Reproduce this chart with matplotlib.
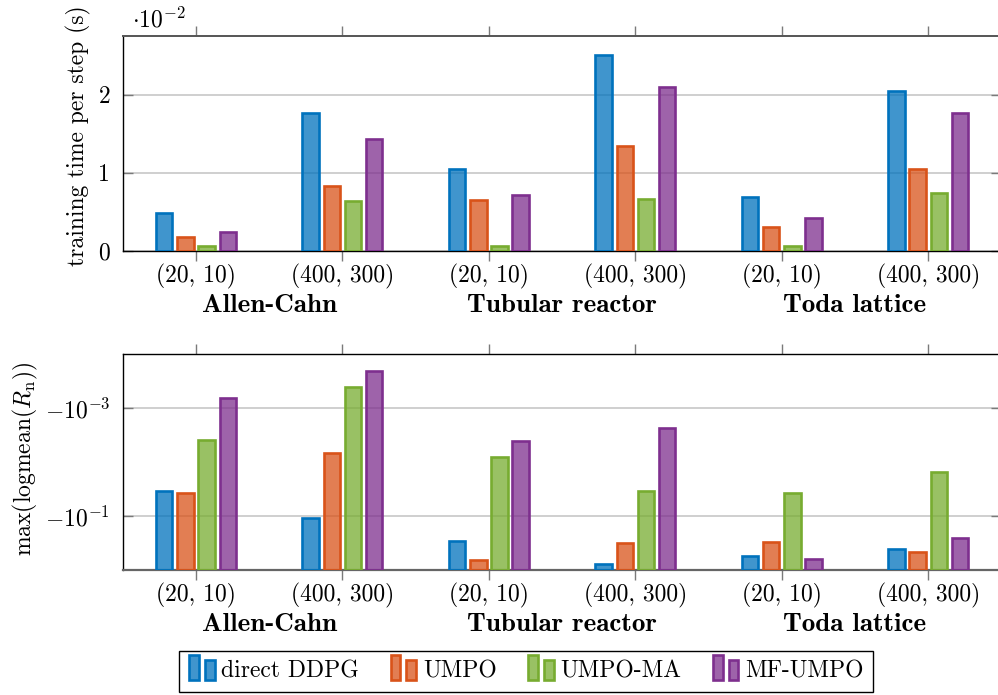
import numpy as np
import matplotlib
matplotlib.use("Agg")
import matplotlib.pyplot as plt
from matplotlib.colors import to_rgba
from matplotlib.patches import Rectangle, Patch
from matplotlib.legend_handler import HandlerBase
from matplotlib.ticker import FixedLocator, FuncFormatter, NullLocator

plt.rcParams["font.family"] = ["cmr10", "DejaVu Serif"]
plt.rcParams["mathtext.fontset"] = "cm"
plt.rcParams["axes.formatter.use_mathtext"] = True
plt.rcParams["axes.unicode_minus"] = True

# ---- data -------------------------------------------------------------
tick_labels = ["(20, 10)", "(400, 300)", "(20, 10)", "(400, 300)", "(20, 10)", "(400, 300)"]
groups = ["Allen-Cahn", "Tubular reactor", "Toda lattice"]
methods = ["direct DDPG", "UMPO", "UMPO-MA", "MF-UMPO"]
colors = ["#0072BD", "#D95319", "#77AC30", "#7E2F8E"]

# training time per step (s)
time_ddpg = [0.0048, 0.0176, 0.0105, 0.0251, 0.0069, 0.0204]
time_umpo = [0.0018, 0.0083, 0.0065, 0.0134, 0.0031, 0.0105]
time_umpo_ma = [0.0007, 0.0064, 0.0007, 0.0067, 0.0007, 0.0074]
time_mf_umpo = [0.0024, 0.0143, 0.0072, 0.0210, 0.0042, 0.0176]

# max(logmean(R_n))
res_ddpg = [-0.034, -0.107, -0.29, -0.78, -0.55, -0.41]
res_umpo = [-0.037, -0.0068, -0.66, -0.32, -0.30, -0.46]
res_umpo_ma = [-0.0039, -0.00041, -0.0081, -0.034, -0.037, -0.0154]
res_mf_umpo = [-0.00066, -0.00020, -0.0041, -0.0023, -0.62, -0.26]

times = [time_ddpg, time_umpo, time_umpo_ma, time_mf_umpo]
residuals = [res_ddpg, res_umpo, res_umpo_ma, res_mf_umpo]

# ---- layout -----------------------------------------------------------
fig = plt.figure(figsize=(9.98, 6.95), dpi=100)
left, width = 0.1230, 0.8805
ax_top = fig.add_axes([left, 0.6388, width, 0.3098])
ax_bot = fig.add_axes([left, 0.1799, width, 0.3103])

x = np.arange(len(tick_labels))
pitch = 0.1447
bar_w = 0.112
bar_lw = 1.9
offsets = (np.arange(len(methods)) - 1.5) * pitch
FS = 17
GRID = "#cfcfcf"
TICKC = "#7a7a7a"


def style_axes(ax):
    ax.set_xlim(-0.5, 5.5)
    ax.set_xticks(x)
    ax.set_xticklabels(tick_labels, fontsize=FS)
    ax.tick_params(axis="x", direction="out", top=True, bottom=True,
                   length=7, width=1, color=TICKC, pad=2)
    ax.tick_params(axis="y", direction="in", left=True, right=True,
                   length=7, width=1, color=TICKC, labelsize=FS, pad=9)
    ax.yaxis.set_minor_locator(NullLocator())
    ax.grid(axis="y", color=GRID, lw=1.4)
    ax.set_axisbelow(True)
    for spine in ax.spines.values():
        spine.set_linewidth(1.0)
    ax.spines["right"].set_visible(False)
    for i, g in enumerate(groups):
        ax.text(2 * i + 0.5, -0.255, g, transform=ax.get_xaxis_transform(),
                ha="center", va="center", fontsize=19.5, family="cmb10")


def draw_bars(ax, series, base):
    for k, (vals, c) in enumerate(zip(series, colors)):
        vals = np.asarray(vals)
        ax.bar(x + offsets[k], vals - base, bottom=base, width=bar_w,
               facecolor=to_rgba(c, 0.75), edgecolor=c, linewidth=bar_lw, zorder=3)


# ---- top panel: training time ----------------------------------------
style_axes(ax_top)
draw_bars(ax_top, times, 0.0)
ax_top.set_ylim(0, 0.02753)
ax_top.yaxis.set_major_locator(FixedLocator([0, 0.01, 0.02]))
ax_top.yaxis.set_major_formatter(FuncFormatter(lambda v, p: f"{v * 100:g}"))
ax_top.spines["top"].set_color("#555555")
ax_top.spines["top"].set_linewidth(1.4)
fig.text(0.132, 0.961, r"$\cdot 10^{-2}$", fontsize=FS, ha="left", va="baseline")
fig.text(0.079, 0.805, "training time per step (s)", rotation=90,
         ha="center", va="center", fontsize=FS)


# ---- bottom panel: residual measure ----------------------------------
def fwd(y):
    y = np.asarray(y, dtype=float)
    with np.errstate(divide="ignore", invalid="ignore"):
        return -np.log10(-y)


def inv(u):
    return -np.power(10.0, -np.asarray(u, dtype=float))


ax_bot.set_yscale("function", functions=(fwd, inv))
style_axes(ax_bot)
draw_bars(ax_bot, residuals, -1.0)
ax_bot.set_ylim(-1.0, -1e-4)
ax_bot.yaxis.set_major_locator(FixedLocator([-1e-3, -1e-1]))
ax_bot.yaxis.set_minor_locator(NullLocator())
ax_bot.yaxis.set_major_formatter(
    FuncFormatter(lambda v, p: r"$-10^{%d}$" % round(np.log10(-v))))
ax_bot.spines["bottom"].set_color("#666666")
ax_bot.spines["bottom"].set_linewidth(1.6)
fig.text(0.026, 0.3396, r"$\max(\mathrm{logmean}(R_{\mathrm{n}}))$", rotation=90,
         ha="center", va="center", fontsize=FS)


# ---- legend -----------------------------------------------------------
class PairedBarHandler(HandlerBase):
    def create_artists(self, legend, orig_handle, xdescent, ydescent,
                       width, height, fontsize, trans):
        fc = orig_handle.get_facecolor()
        ec = orig_handle.get_edgecolor()
        bw = width * 0.36
        y0 = -ydescent - 0.15 * height
        r1 = Rectangle((-xdescent + 0.03 * width, y0), bw, 1.55 * height,
                       facecolor=fc, edgecolor=ec, lw=bar_lw, transform=trans)
        r2 = Rectangle((-xdescent + width - bw - 0.03 * width, y0), bw, 1.25 * height,
                       facecolor=fc, edgecolor=ec, lw=bar_lw, transform=trans)
        return [r1, r2]


handles = [Patch(facecolor=to_rgba(c, 0.75), edgecolor=c) for c in colors]
leg = fig.legend(handles, methods, loc="center", bbox_to_anchor=(0.527, 0.0335),
                 ncol=4, fontsize=FS, frameon=True, fancybox=False,
                 edgecolor="black", framealpha=1, handlelength=1.15,
                 handleheight=0.7, handletextpad=0.25, columnspacing=1.3,
                 borderpad=0.4, borderaxespad=0,
                 handler_map={Patch: PairedBarHandler()})
leg.get_frame().set_linewidth(1.0)

fig.savefig("out.png", dpi=100)
